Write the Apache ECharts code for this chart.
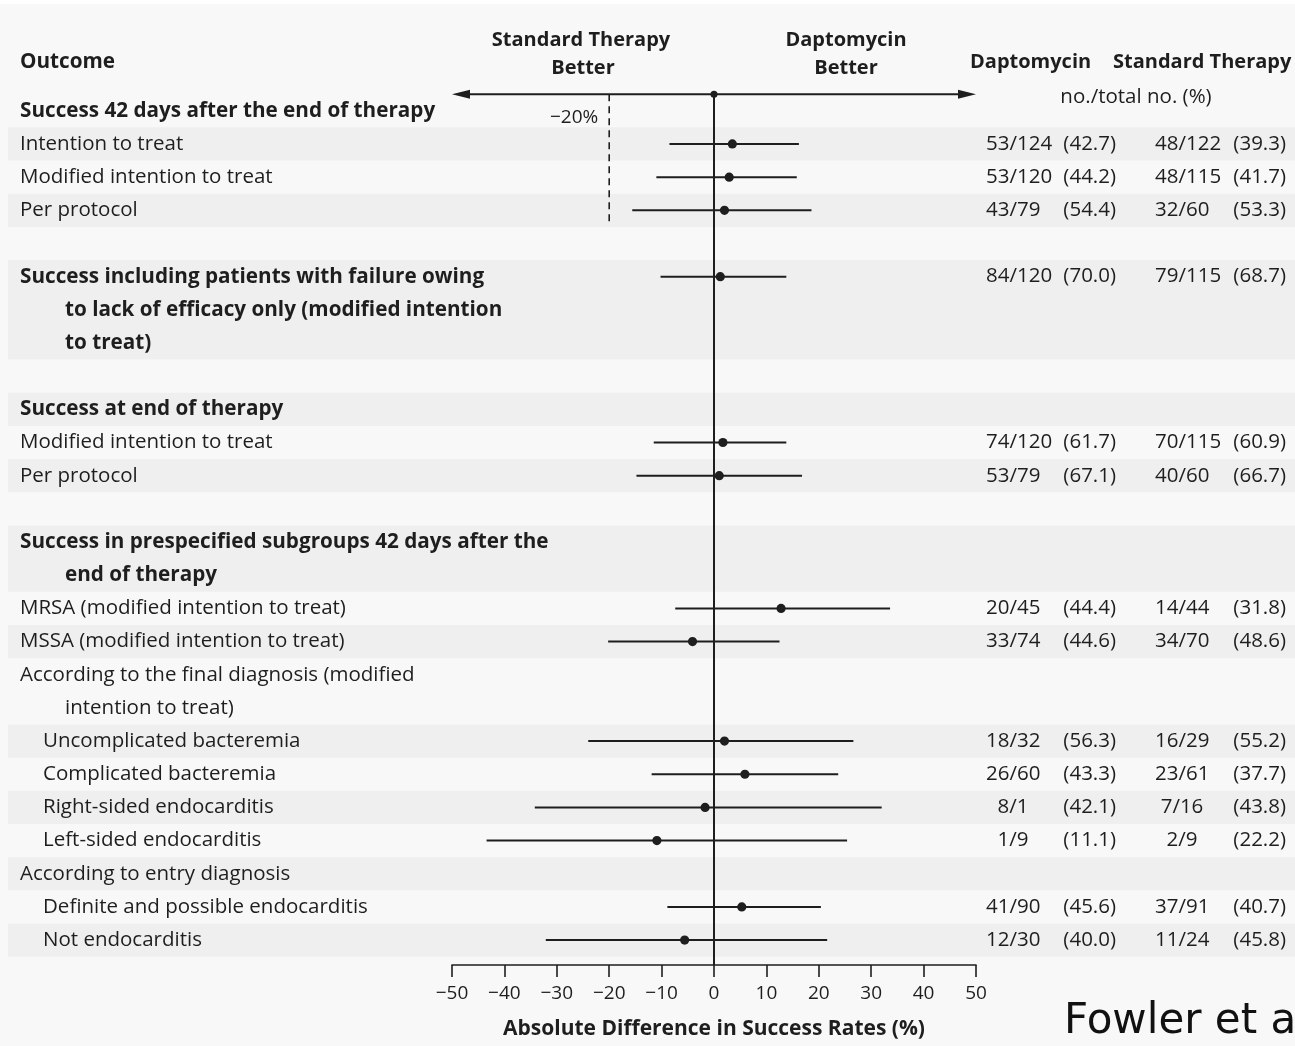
<!DOCTYPE html>
<html>
<head>
<meta charset="utf-8">
<title>Daptomycin vs Standard Therapy – Success Rates</title>
<script src="https://cdn.jsdelivr.net/npm/echarts@6/dist/echarts.min.js"></script>
<style>
  html, body { margin: 0; padding: 0; background: #f8f8f8; }
  #chart { width: 1295px; height: 1046px; }
</style>
</head>
<body>
<div id="chart"></div>
<script>
// ---- Table entries (one entry may wrap onto several lines) ----
const entryLines = [
  ['Success 42 days after the end of therapy'],
  ['Intention to treat'],
  ['Modified intention to treat'],
  ['Per protocol'],
  [''],
  ['Success including patients with failure owing', 'to lack of efficacy only (modified intention', 'to treat)'],
  [''],
  ['Success at end of therapy'],
  ['Modified intention to treat'],
  ['Per protocol'],
  [''],
  ['Success in prespecified subgroups 42 days after the', 'end of therapy'],
  ['MRSA (modified intention to treat)'],
  ['MSSA (modified intention to treat)'],
  ['According to the final diagnosis (modified', 'intention to treat)'],
  ['Uncomplicated bacteremia'],
  ['Complicated bacteremia'],
  ['Right-sided endocarditis'],
  ['Left-sided endocarditis'],
  ['According to entry diagnosis'],
  ['Definite and possible endocarditis'],
  ['Not endocarditis']
];
const entryKinds = [
  'heading', 'outcome', 'outcome', 'outcome', 'gap', 'heading', 'gap',
  'heading', 'outcome', 'outcome', 'gap', 'heading', 'outcome', 'outcome',
  'group', 'subgroup', 'subgroup', 'subgroup', 'subgroup', 'group', 'subgroup', 'subgroup'
];

// ---- Absolute difference in success rate (%) with 95% CI ----
const estimate = [null, 3.5, 2.9, 2.0, null, 1.2, null, null, 1.7, 1.0, null, null, 12.8, -4.1, null, 2.0, 5.9, -1.7, -10.9, null, 5.3, -5.6];
const ciLow    = [null, -8.5, -11.0, -15.6, null, -10.2, null, null, -11.5, -14.8, null, null, -7.4, -20.2, null, -24.0, -11.9, -34.2, -43.4, null, -8.9, -32.1];
const ciHigh   = [null, 16.2, 15.8, 18.6, null, 13.8, null, null, 13.8, 16.8, null, null, 33.6, 12.5, null, 26.6, 23.7, 32.0, 25.4, null, 20.4, 21.6];

// ---- no./total no. (%) ----
const daptoCounts = [null, '53/124', '53/120', '43/79', null, '84/120', null, null, '74/120', '53/79', null, null, '20/45', '33/74', null, '18/32', '26/60', '8/1', '1/9', null, '41/90', '12/30'];
const daptoPct    = [null, '42.7', '44.2', '54.4', null, '70.0', null, null, '61.7', '67.1', null, null, '44.4', '44.6', null, '56.3', '43.3', '42.1', '11.1', null, '45.6', '40.0'];
const stdCounts   = [null, '48/122', '48/115', '32/60', null, '79/115', null, null, '70/115', '40/60', null, null, '14/44', '34/70', null, '16/29', '23/61', '7/16', '2/9', null, '37/91', '11/24'];
const stdPct      = [null, '39.3', '41.7', '53.3', null, '68.7', null, null, '60.9', '66.7', null, null, '31.8', '48.6', null, '55.2', '37.7', '43.8', '22.2', null, '40.7', '45.8'];

// ---- Axis ----
const axisMin = -50, axisMax = 50, axisStep = 10;
const nonInferiorityMargin = -20;

// ---------------------------------------------------------------
const FONT = '"Open Sans", "Noto Sans", sans-serif';
const INK = '#1e1e1e';
const regular = size => `${size}px ${FONT}`;
const bold = size => `bold ${size}px ${FONT}`;
const BOLD_SIZE = 20.7;
const TEXT_SIZE = 20.5;

// Expand entries into table rows
const entryRow = [];
const stripeData = [];
const labelData = [];
const labelText = [];
const labelKind = [];
let row = 0;
entryLines.forEach((lines, i) => {
  entryRow.push(row);
  if (i % 2 === 1) stripeData.push([0, row, lines.length]);
  lines.forEach((t, j) => {
    if (t) {
      labelText.push(t);
      labelKind.push(j === 0 ? entryKinds[i] : entryKinds[i] + '-cont');
      labelData.push([0, row + j, labelText.length - 1]);
    }
  });
  row += lines.length;
});
const lastRow = row - 1;

const ciData = [];
const countData = [];
estimate.forEach((v, i) => {
  if (v !== null) ciData.push([v, entryRow[i], ciLow[i], ciHigh[i]]);
  if (daptoCounts[i] !== null) countData.push([0, entryRow[i], i]);
});

const labelX = { heading: 20, 'heading-cont': 65, outcome: 20, group: 20, 'group-cont': 65, subgroup: 43 };

function countText(s, x0, y) {
  // short counts sit centred in the column, long ones start at its left edge
  if (s.length >= 5) {
    return { type: 'text', x: x0, y, style: { text: s, font: regular(TEXT_SIZE), fill: INK, align: 'left', verticalAlign: 'middle' } };
  }
  return { type: 'text', x: x0 + 27, y, style: { text: s, font: regular(TEXT_SIZE), fill: INK, align: 'center', verticalAlign: 'middle' } };
}

const chart = echarts.init(document.getElementById('chart'));

chart.setOption({
  animation: false,
  backgroundColor: '#f8f8f8',
  grid: { left: 452, right: 319, top: 94.2, bottom: 81, containLabel: false },
  xAxis: {
    type: 'value',
    min: axisMin, max: axisMax, interval: axisStep,
    splitLine: { show: false },
    axisLine: { show: true, onZero: false, lineStyle: { color: INK, width: 1.6 } },
    axisTick: { show: true, inside: false, length: 12, lineStyle: { color: INK, width: 1.6 } },
    axisLabel: {
      margin: 19, fontSize: 19, fontFamily: FONT, color: INK,
      formatter: v => (v < 0 ? '\u2212' + Math.abs(v) : String(v))
    },
    name: 'Absolute Difference in Success Rates (%)',
    nameLocation: 'middle', nameGap: 54,
    nameTextStyle: { fontSize: 21, fontWeight: 'bold', fontFamily: FONT, color: INK }
  },
  yAxis: {
    type: 'value', inverse: true, min: -0.5, max: lastRow + 0.75, show: false
  },
  graphic: [
    { type: 'rect', shape: { x: 0, y: 0, width: 1295, height: 4 }, style: { fill: '#ffffff' }, silent: true },
    { type: 'text', x: 20, y: 62, style: { text: 'Outcome', font: bold(BOLD_SIZE), fill: INK, align: 'left', verticalAlign: 'middle' } },
    { type: 'text', x: 581, y: 40, style: { text: 'Standard Therapy', font: bold(20), fill: INK, align: 'center', verticalAlign: 'middle' } },
    { type: 'text', x: 583, y: 68, style: { text: 'Better', font: bold(20), fill: INK, align: 'center', verticalAlign: 'middle' } },
    { type: 'text', x: 846, y: 40, style: { text: 'Daptomycin', font: bold(20), fill: INK, align: 'center', verticalAlign: 'middle' } },
    { type: 'text', x: 846, y: 68, style: { text: 'Better', font: bold(20), fill: INK, align: 'center', verticalAlign: 'middle' } },
    { type: 'text', x: 970, y: 62, style: { text: 'Daptomycin', font: bold(20), fill: INK, align: 'left', verticalAlign: 'middle' } },
    { type: 'text', x: 1113, y: 62, style: { text: 'Standard Therapy', font: bold(20), fill: INK, align: 'left', verticalAlign: 'middle' } },
    { type: 'text', x: 1136, y: 97, style: { text: 'no./total no. (%)', font: regular(TEXT_SIZE), fill: INK, align: 'center', verticalAlign: 'middle' } },
    { type: 'text', x: 1064, y: 1022, style: { text: 'Fowler et al', font: '42px "DejaVu Sans", sans-serif', fill: '#111', align: 'left', verticalAlign: 'middle' } }
  ],
  series: [
    {
      // alternating row shading
      type: 'custom', name: 'stripes', clip: false, silent: true, z: 0,
      data: stripeData,
      renderItem: (params, api) => {
        const r = api.value(1), n = api.value(2);
        const y0 = api.coord([0, r - 0.5])[1];
        const y1 = api.coord([0, r + n - 0.5])[1];
        return { type: 'rect', shape: { x: 8, y: y0, width: api.getWidth() - 8, height: y1 - y0 }, style: { fill: '#efefef' } };
      }
    },
    {
      // outcome labels
      type: 'custom', name: 'labels', clip: false, silent: true, z: 3,
      data: labelData,
      renderItem: (params, api) => {
        const y = api.coord([0, api.value(1)])[1];
        const idx = api.value(2);
        const kind = labelKind[idx];
        const isBold = kind.indexOf('heading') === 0;
        return {
          type: 'text', x: labelX[kind], y,
          style: { text: labelText[idx], font: isBold ? bold(BOLD_SIZE) : regular(TEXT_SIZE), fill: INK, align: 'left', verticalAlign: 'middle' }
        };
      }
    },
    {
      // direction arrow, zero marker and the non-inferiority margin
      type: 'custom', name: 'guides', clip: false, silent: true, z: 4,
      data: [[0, -0.5]],
      renderItem: (params, api) => {
        const a = api.coord([axisMin, -0.5]);
        const b = api.coord([axisMax, -0.5]);
        const c = api.coord([0, -0.5]);
        const m0 = api.coord([nonInferiorityMargin, -0.5]);
        const m1 = api.coord([nonInferiorityMargin, 3.4]);
        const lbl = api.coord([nonInferiorityMargin, 0.22]);
        const stroke = { stroke: INK, lineWidth: 2 };
        return {
          type: 'group',
          children: [
            { type: 'line', shape: { x1: a[0] + 8, y1: a[1], x2: b[0] - 8, y2: b[1] }, style: stroke },
            { type: 'polygon', shape: { points: [[a[0], a[1]], [a[0] + 18, a[1] - 4.5], [a[0] + 18, a[1] + 4.5]] }, style: { fill: INK } },
            { type: 'polygon', shape: { points: [[b[0], b[1]], [b[0] - 18, b[1] - 4.5], [b[0] - 18, b[1] + 4.5]] }, style: { fill: INK } },
            { type: 'circle', shape: { cx: c[0], cy: c[1], r: 3.5 }, style: { fill: INK } },
            { type: 'line', shape: { x1: m0[0], y1: m0[1], x2: m1[0], y2: m1[1] }, style: { stroke: INK, lineWidth: 1.6, lineDash: [7, 5] } },
            { type: 'text', x: lbl[0] - 11, y: lbl[1], style: { text: '\u221220%', font: regular(19), fill: INK, align: 'right', verticalAlign: 'middle' } }
          ]
        };
      }
    },
    {
      // confidence intervals and point estimates
      type: 'custom', name: 'difference', clip: false, silent: true, z: 5,
      data: ciData,
      renderItem: (params, api) => {
        const r = api.value(1);
        const p = api.coord([api.value(0), r]);
        const lo = api.coord([api.value(2), r]);
        const hi = api.coord([api.value(3), r]);
        return {
          type: 'group',
          children: [
            { type: 'line', shape: { x1: lo[0], y1: lo[1], x2: hi[0], y2: hi[1] }, style: { stroke: INK, lineWidth: 2 } },
            { type: 'circle', shape: { cx: p[0], cy: p[1], r: 4.6 }, style: { fill: INK } }
          ]
        };
      },
      markLine: {
        silent: true, symbol: ['none', 'none'], label: { show: false },
        lineStyle: { color: INK, width: 2, type: 'solid' },
        data: [{ xAxis: 0 }]
      }
    },
    {
      // counts and percentages per group
      type: 'custom', name: 'counts', clip: false, silent: true, z: 3,
      data: countData,
      renderItem: (params, api) => {
        const y = api.coord([0, api.value(1)])[1];
        const i = api.value(2);
        return {
          type: 'group',
          children: [
            countText(daptoCounts[i], 986, y),
            { type: 'text', x: 1116, y, style: { text: '(' + daptoPct[i] + ')', font: regular(TEXT_SIZE), fill: INK, align: 'right', verticalAlign: 'middle' } },
            countText(stdCounts[i], 1155, y),
            { type: 'text', x: 1286, y, style: { text: '(' + stdPct[i] + ')', font: regular(TEXT_SIZE), fill: INK, align: 'right', verticalAlign: 'middle' } }
          ]
        };
      }
    }
  ]
});
</script>
</body>
</html>
